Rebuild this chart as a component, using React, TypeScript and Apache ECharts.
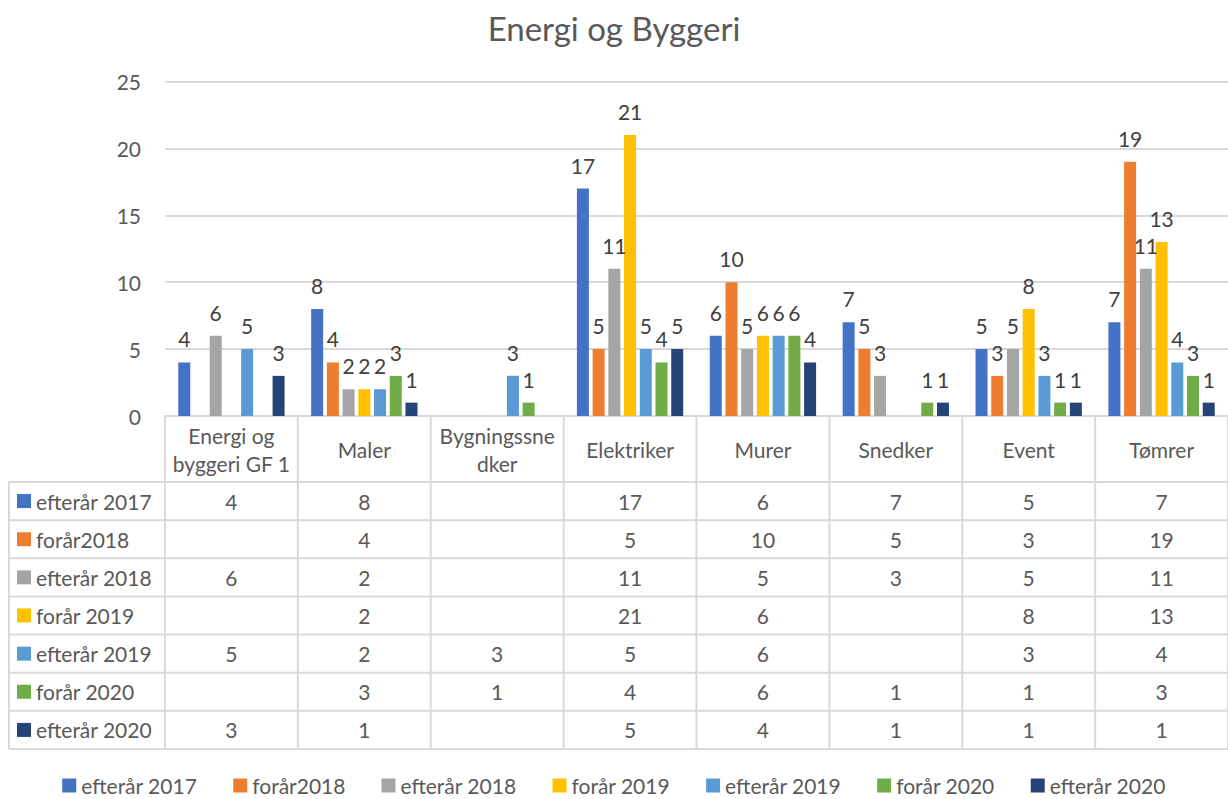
import React, { useEffect, useRef } from "react";
import * as echarts from "echarts";

const title = "Energi og Byggeri";
const categories = ["Energi og\nbyggeri GF 1", "Maler", "Bygningssne\ndker", "Elektriker", "Murer", "Snedker", "Event", "Tømrer"];
const seriesNames = ["efterår 2017", "forår2018", "efterår 2018", "forår 2019", "efterår 2019", "forår 2020", "efterår 2020"];
const colors = ["#4472C4", "#ED7D31", "#A5A5A5", "#FFC000", "#5B9BD5", "#70AD47", "#264478"];
const efteraar2017 = [4, 8, null, 17, 6, 7, 5, 7];
const foraar2018 = [null, 4, null, 5, 10, 5, 3, 19];
const efteraar2018 = [6, 2, null, 11, 5, 3, 5, 11];
const foraar2019 = [null, 2, null, 21, 6, null, 8, 13];
const efteraar2019 = [5, 2, 3, 5, 6, null, 3, 4];
const foraar2020 = [null, 3, 1, 4, 6, 1, 1, 3];
const efteraar2020 = [3, 1, null, 5, 4, 1, 1, 1];
const seriesData = [efteraar2017, foraar2018, efteraar2018, foraar2019, efteraar2019, foraar2020, efteraar2020];
const yMin = 0;
const yMax = 25;
const yInterval = 5;

const FONT = "Lato, 'Liberation Sans', sans-serif";
const TXT = "#595959";
const LINE = "#d9d9d9";
const FS = 21;

export default function App() {
  const ref = useRef<HTMLDivElement>(null);
  useEffect(() => {
    if (!ref.current) return;
    const chart = echarts.init(ref.current, undefined, { renderer: "svg" });
    const W = 1228;
    const gridLeft = 165;
    const axisY = 416;
    const tableTop = 482;
    const tableBottom = 749;
    const rowH = (tableBottom - tableTop) / seriesNames.length;
    const tableLeft = 9;
    const catW = (W - gridLeft) / categories.length;

    const graphics: any[] = [];
    const line = (x1: number, y1: number, x2: number, y2: number) => ({
      type: "line",
      silent: true,
      shape: { x1, y1, x2, y2 },
      style: { stroke: LINE, lineWidth: 2 },
    });
    for (let r = 0; r <= seriesNames.length; r++) {
      const y = tableTop + r * rowH;
      graphics.push(line(tableLeft, y, W, y));
    }
    graphics.push(line(tableLeft, tableTop, tableLeft, tableBottom));
    for (let c = 0; c <= categories.length; c++) {
      const x = gridLeft + c * catW;
      graphics.push(line(x, axisY, x, tableBottom));
    }
    seriesNames.forEach((name, r) => {
      const cy = tableTop + r * rowH + rowH / 2;
      graphics.push({
        type: "rect",
        silent: true,
        shape: { x: 17, y: cy - 7, width: 14, height: 14 },
        style: { fill: colors[r] },
      });
      graphics.push({
        type: "text",
        silent: true,
        x: 36,
        y: cy,
        style: { text: name, fill: TXT, fontSize: FS, fontFamily: FONT, textAlign: "left", textVerticalAlign: "middle" },
      });
      seriesData[r].forEach((v, c) => {
        if (v === null) return;
        graphics.push({
          type: "text",
          silent: true,
          x: gridLeft + c * catW + catW / 2,
          y: cy,
          style: { text: String(v), fill: TXT, fontSize: FS, fontFamily: FONT, textAlign: "center", textVerticalAlign: "middle" },
        });
      });
    });

    chart.setOption({
      animation: false,
      textStyle: { fontFamily: FONT },
      title: {
        text: title,
        left: "center",
        top: 6,
        textStyle: { fontSize: 33, fontWeight: "normal", color: TXT, fontFamily: FONT },
      },
      color: colors,
      legend: {
        data: seriesNames,
        left: "center",
        top: 770,
        icon: "rect",
        itemWidth: 14,
        itemHeight: 14,
        itemGap: 36,
        textStyle: { fontSize: FS, color: TXT, fontFamily: FONT },
      },
      grid: { left: gridLeft, right: 0, top: 81.5, bottom: 799 - axisY, containLabel: false },
      xAxis: {
        type: "category",
        data: categories,
        axisLine: { show: true, lineStyle: { color: LINE, width: 2 } },
        axisTick: { show: false },
        axisLabel: {
          interval: 0,
          margin: 33,
          verticalAlign: "middle",
          fontSize: FS,
          lineHeight: 28,
          color: TXT,
          fontFamily: FONT,
        },
      },
      yAxis: {
        type: "value",
        min: yMin,
        max: yMax,
        interval: yInterval,
        axisLine: { show: false },
        axisTick: { show: false },
        axisLabel: { fontSize: FS, color: TXT, margin: 24, fontFamily: FONT },
        splitLine: { lineStyle: { color: LINE, width: 2 } },
      },
      series: seriesNames.map((name, i) => ({
        name,
        type: "bar",
        data: seriesData[i],
        barWidth: 12,
        barGap: "31%",
        itemStyle: { color: colors[i] },
        label: {
          show: true,
          position: "top",
          distance: 13,
          fontSize: FS,
          color: "#404040",
          fontFamily: FONT,
        },
      })),
      graphic: graphics,
    });
    return () => chart.dispose();
  }, []);
  return (
    <div
      ref={ref}
      style={{ position: "fixed", left: 0, top: 0, width: 1228, height: 799, background: "#fff" }}
    />
  );
}
